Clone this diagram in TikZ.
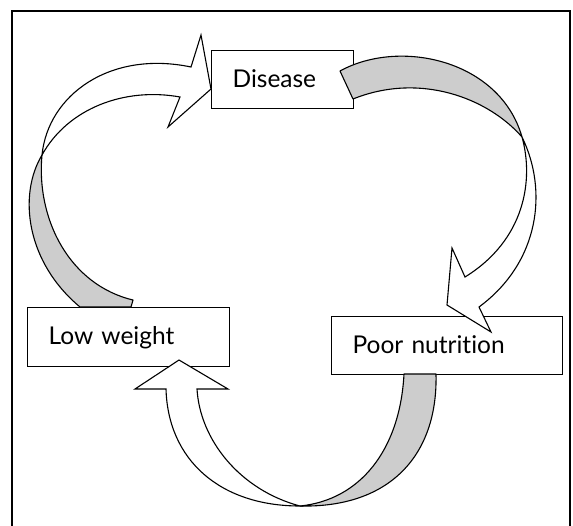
\documentclass[tikz,border=0pt]{standalone}
\usepackage{fontspec}
\setmainfont{Lato}[Ligatures=NoCommon]
\definecolor{bandgray}{RGB}{205,205,205}
\tikzset{
  box/.style={draw=black, line width=1.2pt, fill=white, rectangle, anchor=north west,
    inner xsep=21pt, text height=19pt, text depth=4pt, font=\fontsize{24.5}{27}\selectfont},
  back/.style={draw=black, line width=1.1pt, fill=bandgray, line join=round},
  front/.style={draw=black, line width=1.1pt, fill=white, line join=miter}
}
\begin{document}
\begin{tikzpicture}[x=1pt, y=-1pt]
  \useasboundingbox (0,0) rectangle (573,525);
  \draw [line width=2pt, black] (12,530)--(12,11)--(570,11)--(570,530);
  \node [box, minimum width=142pt, minimum height=58pt, text width=100pt] (disease) at (211,50) {Disease};
  \node [box, minimum width=202pt, minimum height=59pt, text width=160pt] (weight) at (27,307) {Low weight};
  \node [box, minimum width=231pt, minimum height=58pt, text width=189pt] (nutrition) at (331,316) {Poor nutrition};
  % low weight -> disease
  \draw [back] (42,155) .. controls (18,195) and (26,262) .. (80,307) -- (131,307) -- (133,300)
    .. controls (70,285) and (36,220) .. (42,155) -- cycle;
  \draw [front] (42,155) .. controls (48,95) and (110,50) .. (191,67) -- (201,35) -- (211,89)
    -- (168,127) -- (180,97) .. controls (125,87) and (68,108) .. (42,155) -- cycle;
  % disease -> poor nutrition
  \draw [back] (340,71) .. controls (400,38) and (500,60) .. (522,137)
    .. controls (488,98) and (420,72) .. (353,99) -- cycle;
  \draw [front] (522,137) .. controls (548,190) and (540,262) .. (479,307) -- (491,332) -- (447,305)
    -- (452,248) -- (465,277) .. controls (525,240) and (534,180) .. (522,137) -- cycle;
  % poor nutrition -> low weight
  \draw [back] (404,374) .. controls (400,450) and (360,500) .. (300,506)
    .. controls (390,508) and (438,455) .. (436,374) -- cycle;
  \draw [front] (300,506) .. controls (220,506) and (168,460) .. (166,389) -- (135,389) -- (179,360)
    -- (228,389) -- (197,389) .. controls (200,440) and (240,490) .. (300,506) -- cycle;
\end{tikzpicture}
\end{document}
